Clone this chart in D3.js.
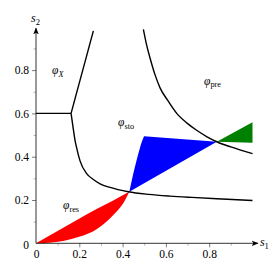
<!DOCTYPE html>
<html><head><meta charset="utf-8">
<script src="https://cdn.jsdelivr.net/npm/d3@7"></script>
<style>
html,body{margin:0;padding:0;background:#fff;}
svg{display:block;}
</style></head>
<body>
<svg id="c" width="274" height="274"></svg>
<script>
// ---- data ----
const majorTicks = [0, 0.2, 0.4, 0.6, 0.8];
const majorTickLabels = ["0", "0.2", "0.4", "0.6", "0.8"];
const minorTicks = [0.1, 0.3, 0.5, 0.7, 0.9];

const phiXHorizontal = [[0, 0.6], [0.162, 0.6]];
const phiXUpper = [[0.162, 0.6], [0.265, 0.981]];
const lowerCurve = [[0.162,0.600],[0.172,0.530],[0.180,0.477],[0.188,0.440],[0.203,0.382],[0.234,0.322],[0.265,0.295],[0.296,0.275],[0.342,0.258],[0.426,0.238],[0.520,0.226],[0.619,0.218],[0.720,0.212],[0.836,0.206],[1.000,0.198]];
const upperCurve = [[0.496,0.988],[0.510,0.920],[0.527,0.855],[0.550,0.778],[0.573,0.718],[0.607,0.662],[0.650,0.600],[0.699,0.554],[0.742,0.522],[0.790,0.492],[0.835,0.469],[0.900,0.445],[1.000,0.414]];

const resUpper = [[0,0],[0.126,0.072],[0.203,0.116],[0.280,0.158],[0.357,0.198],[0.431,0.238]];
const resLower = [[0,0],[0.060,0.003],[0.126,0.011],[0.203,0.031],[0.280,0.065],[0.357,0.131],[0.403,0.185],[0.431,0.238]];
const stoLeft = [[0.431,0.238],[0.449,0.320],[0.465,0.385],[0.480,0.440],[0.490,0.472],[0.499,0.494]];
const stoRight = [[0.835,0.469]];
const preRegion = [[0.835,0.469],[1.0,0.559],[1.0,0.464]];

const labels = [
  {main:"φ", sub:"X", subItalic:true, x:0.074, y:0.781},
  {main:"φ", sub:"sto", subItalic:false, x:0.379, y:0.543},
  {main:"φ", sub:"pre", subItalic:false, x:0.776, y:0.733},
  {main:"φ", sub:"res", subItalic:false, x:0.125, y:0.160}
];
const axisEnds = {x: 1.025, y: 0.994};

// ---- chart ----
const FONT = "font-family:'Liberation Serif','DejaVu Serif',serif";
const svg = d3.select("#c");
const x = d3.scaleLinear().domain([0, 1]).range([36, 252.5]);
const y = d3.scaleLinear().domain([0, 1]).range([243.3, 26.8]);

const defs = svg.append("defs");
defs.append("marker").attr("id","arr").attr("viewBox","0 0 10 10")
  .attr("refX",9).attr("refY",5).attr("markerWidth",7).attr("markerHeight",7)
  .attr("markerUnits","userSpaceOnUse").attr("orient","auto")
  .append("path").attr("d","M0,1 L10,5 L0,9 L2.5,5 Z").attr("fill","#000");

const lineGen = d3.line().x(d => x(d[0])).y(d => y(d[1]));
const monoX = d3.line().x(d => x(d[0])).y(d => y(d[1])).curve(d3.curveMonotoneX);
const monoY = d3.line().x(d => x(d[0])).y(d => y(d[1])).curve(d3.curveMonotoneY);

// regions
const redD = monoX(resUpper) + monoX(resLower.slice().reverse()).replace(/^M/, "L") + "Z";
svg.append("path").attr("d", redD).attr("fill", "#ff0000");
const stoD = monoY(stoLeft) + lineGen(stoRight.concat([stoLeft[0]])).replace(/^M/, "L") + "Z";
svg.append("path").attr("d", stoD).attr("fill", "#0000ff");
svg.append("path").attr("d", lineGen(preRegion) + "Z").attr("fill", "#008000");

// minor ticks
const minorAxisX = d3.axisBottom(x).tickValues(minorTicks).tickSize(2.5).tickFormat("");
const minorAxisY = d3.axisLeft(y).tickValues(minorTicks).tickSize(2.5).tickFormat("");
const gmx = svg.append("g").attr("transform", `translate(0,${y(0)})`).call(minorAxisX);
const gmy = svg.append("g").attr("transform", `translate(${x(0)},0)`).call(minorAxisY);
[gmx, gmy].forEach(g => { g.select(".domain").remove(); g.selectAll("line").attr("stroke","#888").attr("stroke-width",0.6); });

// major ticks
const axX = d3.axisBottom(x).tickValues(majorTicks).tickSize(4).tickPadding(3)
  .tickFormat((d,i) => majorTickLabels[i]);
const axY = d3.axisLeft(y).tickValues(majorTicks).tickSize(4).tickPadding(3)
  .tickFormat((d,i) => majorTickLabels[i]);
const gx = svg.append("g").attr("transform", `translate(0,${y(0)})`).call(axX);
const gy = svg.append("g").attr("transform", `translate(${x(0)},0)`).call(axY);
[gx, gy].forEach(g => {
  g.attr("font-family", null).attr("font-size", null);
  g.select(".domain").remove();
  g.selectAll("line").attr("stroke","#444").attr("stroke-width",0.7);
  g.selectAll("text").attr("style", FONT + ";font-size:11.5px").attr("fill","#000");
});
gx.selectAll(".tick").filter(d => d === 0).select("line").remove();
gy.selectAll(".tick").filter(d => d === 0).select("line").remove();
gy.selectAll(".tick").filter(d => d === 0).select("text").attr("dy","0.45em");

// axis lines with arrows
svg.append("line").attr("x1", x(0)).attr("y1", y(0)).attr("x2", x(axisEnds.x)).attr("y2", y(0))
  .attr("stroke","#000").attr("stroke-width",0.8).attr("marker-end","url(#arr)");
svg.append("line").attr("x1", x(0)).attr("y1", y(0)).attr("x2", x(0)).attr("y2", y(axisEnds.y))
  .attr("stroke","#000").attr("stroke-width",0.8).attr("marker-end","url(#arr)");

function subLabel(g, px, py, main, sub, subItalic, size) {
  const t = g.append("text").attr("x", px).attr("y", py)
    .attr("style", FONT + ";font-size:" + size + "px").attr("fill", "#000");
  t.append("tspan").attr("font-style","italic").text(main);
  t.append("tspan").attr("style", "font-size:" + (size*0.72) + "px").attr("dy", size*0.25)
    .attr("font-style", subItalic ? "italic" : "normal").text(sub);
}
subLabel(svg, x(axisEnds.x) + 2, y(0) + 3, "s", "1", false, 12);
subLabel(svg, x(0) - 5, y(axisEnds.y) - 6, "s", "2", false, 12);

// boundary curves
[phiXHorizontal, phiXUpper].forEach(seg => {
  svg.append("path").attr("d", lineGen(seg)).attr("fill","none").attr("stroke","#000").attr("stroke-width",1.4);
});
[lowerCurve, upperCurve].forEach(seg => {
  svg.append("path").attr("d", monoX(seg)).attr("fill","none").attr("stroke","#000").attr("stroke-width",1.4);
});

// region labels
labels.forEach(l => subLabel(svg, x(l.x), y(l.y), l.main, l.sub, l.subItalic, 11.5));
</script>
</body></html>
